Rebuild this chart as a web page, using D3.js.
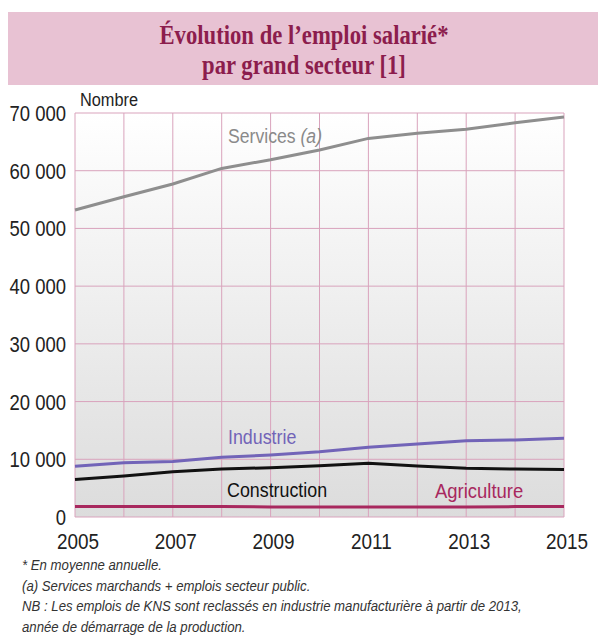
<!DOCTYPE html>
<html><head><meta charset="utf-8">
<script src="https://cdn.jsdelivr.net/npm/d3@7"></script>
<style>body{margin:0;background:#fff;} svg{display:block;}</style>
</head><body>
<script>
const years = [2005,2006,2007,2008,2009,2010,2011,2012,2013,2014,2015];
const services = [53200,55500,57700,60400,61900,63600,65600,66500,67200,68300,69300];
const industrie = [8800,9400,9600,10350,10750,11300,12100,12650,13200,13350,13650];
const construction = [6500,7100,7850,8300,8550,8900,9300,8850,8450,8300,8250];
const agriculture = [1800,1800,1800,1800,1750,1750,1750,1750,1750,1800,1800];
const yTicks = [0,10000,20000,30000,40000,50000,60000,70000];
const xTickLabels = [2005,2007,2009,2011,2013,2015];
const titleLines = ["Évolution de l’emploi salarié*","par grand secteur [1]"];
const notes = ["* En moyenne annuelle.","(a) Services marchands + emplois secteur public.","NB : Les emplois de KNS sont reclassés en industrie manufacturière à partir de 2013,","année de démarrage de la production."];

const W=598,H=644;
const svg=d3.select("body").append("svg").attr("width",W).attr("height",H);
const sans="'Liberation Sans',Arial,sans-serif";

function ctext(px,py,t,size,sx,anchor,color,opts){
  opts=opts||{};
  const g=svg.append("g").attr("transform",`translate(${px},${py}) scale(${sx},1)`);
  const el=g.append("text").attr("x",0).attr("y",0).attr("text-anchor",anchor)
    .attr("font-family",opts.family||sans).attr("font-size",size).attr("fill",color)
    .attr("font-weight",opts.weight||"normal").attr("font-style",opts.style||"normal").text(t);
  return el;
}

// title box
svg.append("rect").attr("x",8).attr("y",12).attr("width",590).attr("height",73).attr("fill","#e8c2d3");
titleLines.forEach((t,i)=>ctext(304,44+i*30,t,27,0.84,"middle","#8c1d4d",{family:"'Liberation Serif',serif",weight:"bold"}));

const x=d3.scaleLinear().domain([2005,2015]).range([75,564]);
const y=d3.scaleLinear().domain([0,70000]).range([517,113]);

const defs=svg.append("defs");
const g=defs.append("linearGradient").attr("id","bg").attr("x1",0).attr("y1",0).attr("x2",0).attr("y2",1);
g.append("stop").attr("offset","0%").attr("stop-color","#ffffff");
g.append("stop").attr("offset","100%").attr("stop-color","#dcdcdc");
svg.append("rect").attr("x",x(2005)).attr("y",y(70000)).attr("width",x(2015)-x(2005)).attr("height",y(0)-y(70000)).attr("fill","url(#bg)");

// grid
svg.append("g").selectAll("line").data(yTicks).join("line")
  .attr("x1",x(2005)).attr("x2",x(2015)).attr("y1",d=>y(d)).attr("y2",d=>y(d))
  .attr("stroke","#d9a3bc").attr("stroke-width",1);
svg.append("g").selectAll("line").data(years).join("line")
  .attr("y1",y(0)).attr("y2",y(70000)).attr("x1",d=>x(d)).attr("x2",d=>x(d))
  .attr("stroke","#d9a3bc").attr("stroke-width",1);

// axes labels (positions from scales)
const fmt=d=>d3.format(",")(d).replace(/,/g," ");
yTicks.forEach(d=>ctext(66,y(d)+8,fmt(d),22,0.84,"end","#222"));
xTickLabels.forEach(d=>ctext(x(d)+3,549,String(d),22,0.86,"middle","#222"));

ctext(80,106,"Nombre",19,0.86,"start","#222");

// lines
const line=d3.line().x((d,i)=>x(years[i])).y(d=>y(d));
const series=[
  {v:services,c:"#8e8e8e"},
  {v:industrie,c:"#7264b8"},
  {v:construction,c:"#111111"},
  {v:agriculture,c:"#a8285e"}
];
svg.append("g").selectAll("path").data(series).join("path")
  .attr("d",d=>line(d.v)).attr("fill","none").attr("stroke",d=>d.c).attr("stroke-width",3);

// series labels
const s=ctext(228,143,"Services ",21,0.84,"start","#8a8a8a");
s.append("tspan").attr("font-style","italic").text("(a)");
ctext(228,444,"Industrie",21,0.85,"start","#7264b8");
ctext(227,497,"Construction",21,0.85,"start","#111");
ctext(435,498,"Agriculture",21,0.88,"start","#a8285e");

// notes
notes.forEach((t,i)=>ctext(22,570+i*20.5,t,15,0.88,"start","#333",{style:"italic"}));
</script>
</body></html>
